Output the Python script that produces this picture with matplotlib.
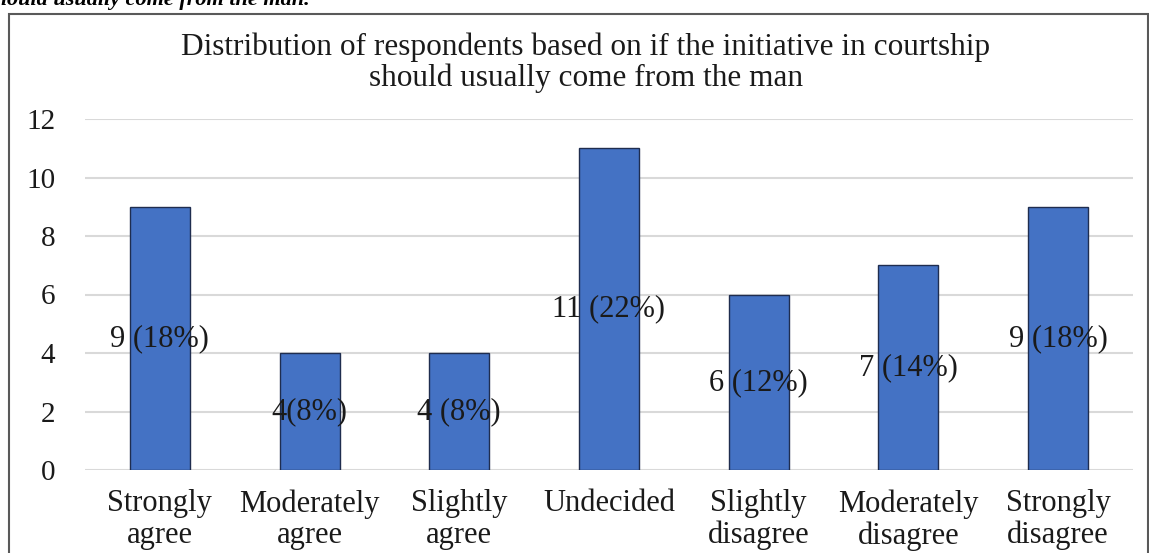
import matplotlib
matplotlib.use("Agg")
import matplotlib.pyplot as plt
from matplotlib.patches import Rectangle

categories = ["Strongly\nagree", "Moderately\nagree", "Slightly\nagree", "Undecided",
              "Slightly\ndisagree", "Moderately\ndisagree", "Strongly\ndisagree"]
counts = [9, 4, 4, 11, 6, 7, 9]
labels = ["9 (18%)", "4(8%)", "4 (8%)", "11 (22%)", "6 (12%)", "7 (14%)", "9 (18%)"]
yticks = [0, 2, 4, 6, 8, 10, 12]

W, H = 1149, 553
fig = plt.figure(figsize=(W / 100, H / 100), dpi=100)
serif = "Liberation Serif"
ink = "#1a1a1a"

# caption line above the chart frame (partly out of view)
fig.text(-14 / W, 1 - 5 / H, "should usually come from the man.", fontsize=16,
         family=serif, style="italic", weight="bold", va="baseline", ha="left")

# chart frame
fig.patches.append(Rectangle((9 / W, -0.1), (1148 - 9) / W, 1.1 - 14 / H,
                             transform=fig.transFigure, fill=False,
                             edgecolor="#595959", linewidth=1.5))

ax = fig.add_axes([85 / W, 1 - 470 / H, (1133 - 85) / W, (470 - 119) / H])
x = list(range(len(categories)))
ax.bar(x, counts, width=0.4, color="#4472C4", edgecolor="#1f2d4f", linewidth=1.0, zorder=3)

for xi, v, lab in zip(x, counts, labels):
    ax.text(xi, v / 2, lab, ha="center", va="center", fontsize=22, family=serif,
            color=ink, zorder=4)

ax.set_xlim(-0.5, len(categories) - 0.5)
ax.set_ylim(0, 12)
ax.set_yticks(yticks)
ax.set_yticklabels([str(t) for t in yticks], fontsize=21, family=serif, color=ink)
ax.set_xticks(x)
ax.set_xticklabels(categories, fontsize=22, family=serif, color=ink, linespacing=1.1)
ax.tick_params(axis="y", length=0, pad=21.5)
ax.tick_params(axis="x", length=0, pad=14)
ax.grid(axis="y", color="#d9d9d9", linewidth=1.5, zorder=0)
for s in ax.spines.values():
    s.set_visible(False)

fig.text(586 / W, 1 - 47 / H, "Distribution of respondents based on if the initiative in courtship",
         ha="center", va="center", fontsize=22.5, family=serif, color=ink)
fig.text(586 / W, 1 - 78 / H, "should usually come from the man",
         ha="center", va="center", fontsize=22.5, family=serif, color=ink)

fig.savefig("out.png", dpi=100)
